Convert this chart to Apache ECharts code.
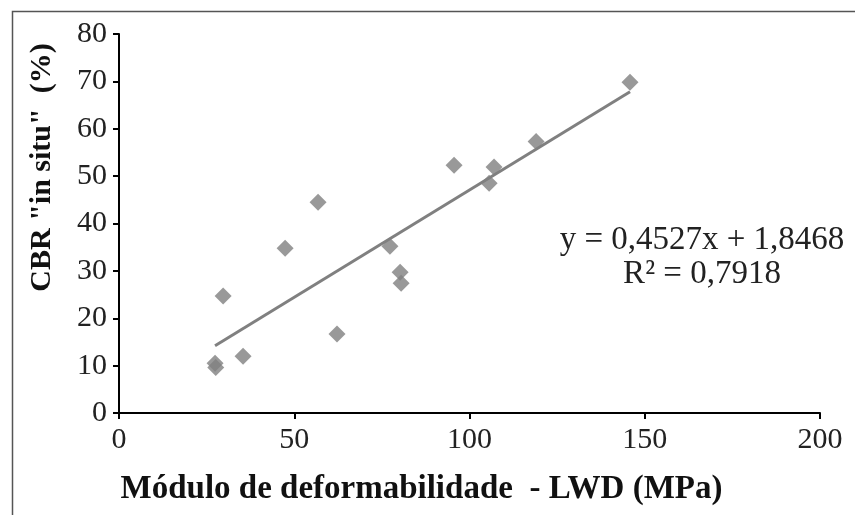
<!DOCTYPE html>
<html>
<head>
<meta charset="utf-8">
<script src="https://cdn.jsdelivr.net/npm/echarts@6/dist/echarts.min.js"></script>
<style>
html,body{margin:0;padding:0;background:#fff;}
#chart{width:855px;height:515px;}
</style>
</head>
<body>
<div id="chart"></div>
<script>
// Data
var lwdModulus = [27.4, 27.6, 29.7, 35.4, 47.4, 56.8, 62.2, 77.3, 80.2, 80.5, 95.6, 105.6, 107.0, 119.0, 145.8];
var cbrInSitu  = [10.5,  9.6, 24.7, 12.0, 34.8, 44.5, 16.7, 35.2, 29.7, 27.4, 52.3, 48.5, 51.9, 57.3, 69.8];
var trendX = [27.4, 145.8];
var trendY = [14.2, 67.8];
var xTicks = [0, 50, 100, 150, 200];
var yTicks = [0, 10, 20, 30, 40, 50, 60, 70, 80];
var xTitle = 'Módulo de deformabilidade  - LWD (MPa)';
var yTitle = 'CBR "in situ"  (%)';
var eqLine1 = 'y = 0,4527x + 1,8468';
var eqLine2 = 'R² = 0,7918';

var points = lwdModulus.map(function (x, i) { return [x, cbrInSitu[i]]; });
var trend = trendX.map(function (x, i) { return [x, trendY[i]]; });

var chart = echarts.init(document.getElementById('chart'), null, {renderer: 'canvas'});
var serif = '"Liberation Serif", "DejaVu Serif", serif';
var axisCommon = {
  axisLine: {show: true, lineStyle: {color: '#000', width: 2}},
  axisTick: {show: true, inside: false, length: 6, lineStyle: {color: '#000', width: 2}},
  splitLine: {show: false}
};
chart.setOption({
  animation: false,
  backgroundColor: '#fff',
  grid: {left: 119, right: 35, top: 34, bottom: 102, containLabel: false},
  xAxis: Object.assign({
    type: 'value', min: xTicks[0], max: xTicks[xTicks.length - 1], interval: 50,
    name: xTitle, nameLocation: 'middle', nameGap: 60,
    nameTextStyle: {fontFamily: serif, fontWeight: 'bold', fontSize: 33, color: '#111', padding: [0, 96, 0, 0]}
  }, axisCommon, {axisLabel: {color: '#222', fontFamily: serif, fontSize: 30, margin: 12}}),
  yAxis: Object.assign({
    type: 'value', min: yTicks[0], max: yTicks[yTicks.length - 1], interval: 10,
    name: yTitle, nameLocation: 'middle', nameGap: 62,
    nameTextStyle: {fontFamily: serif, fontWeight: 'bold', fontSize: 30, color: '#111', padding: [0, 0, 0, 112]}
  }, axisCommon, {axisLabel: {color: '#222', fontFamily: serif, fontSize: 30, margin: 12}}),
  graphic: [
    {type: 'rect', left: 10, top: 9, shape: {x: 0, y: 0, width: 900, height: 560},
     style: {fill: 'none', stroke: '#555', lineWidth: 1.5}, silent: true, z: -1},
    {type: 'text', x: 702, y: 240, style: {text: eqLine1, fontFamily: serif, fontSize: 33, fill: '#222', textAlign: 'center', textVerticalAlign: 'middle'}},
    {type: 'text', x: 702, y: 274, style: {text: eqLine2, fontFamily: serif, fontSize: 33, fill: '#222', textAlign: 'center', textVerticalAlign: 'middle'}}
  ],
  series: [
    {type: 'line', data: trend, symbol: 'none', lineStyle: {color: '#808080', width: 3}, z: 2},
    {type: 'scatter', data: points, symbol: 'diamond', symbolSize: [17, 17], itemStyle: {color: '#7f7f7f'}, z: 3}
  ]
});
</script>
</body>
</html>
